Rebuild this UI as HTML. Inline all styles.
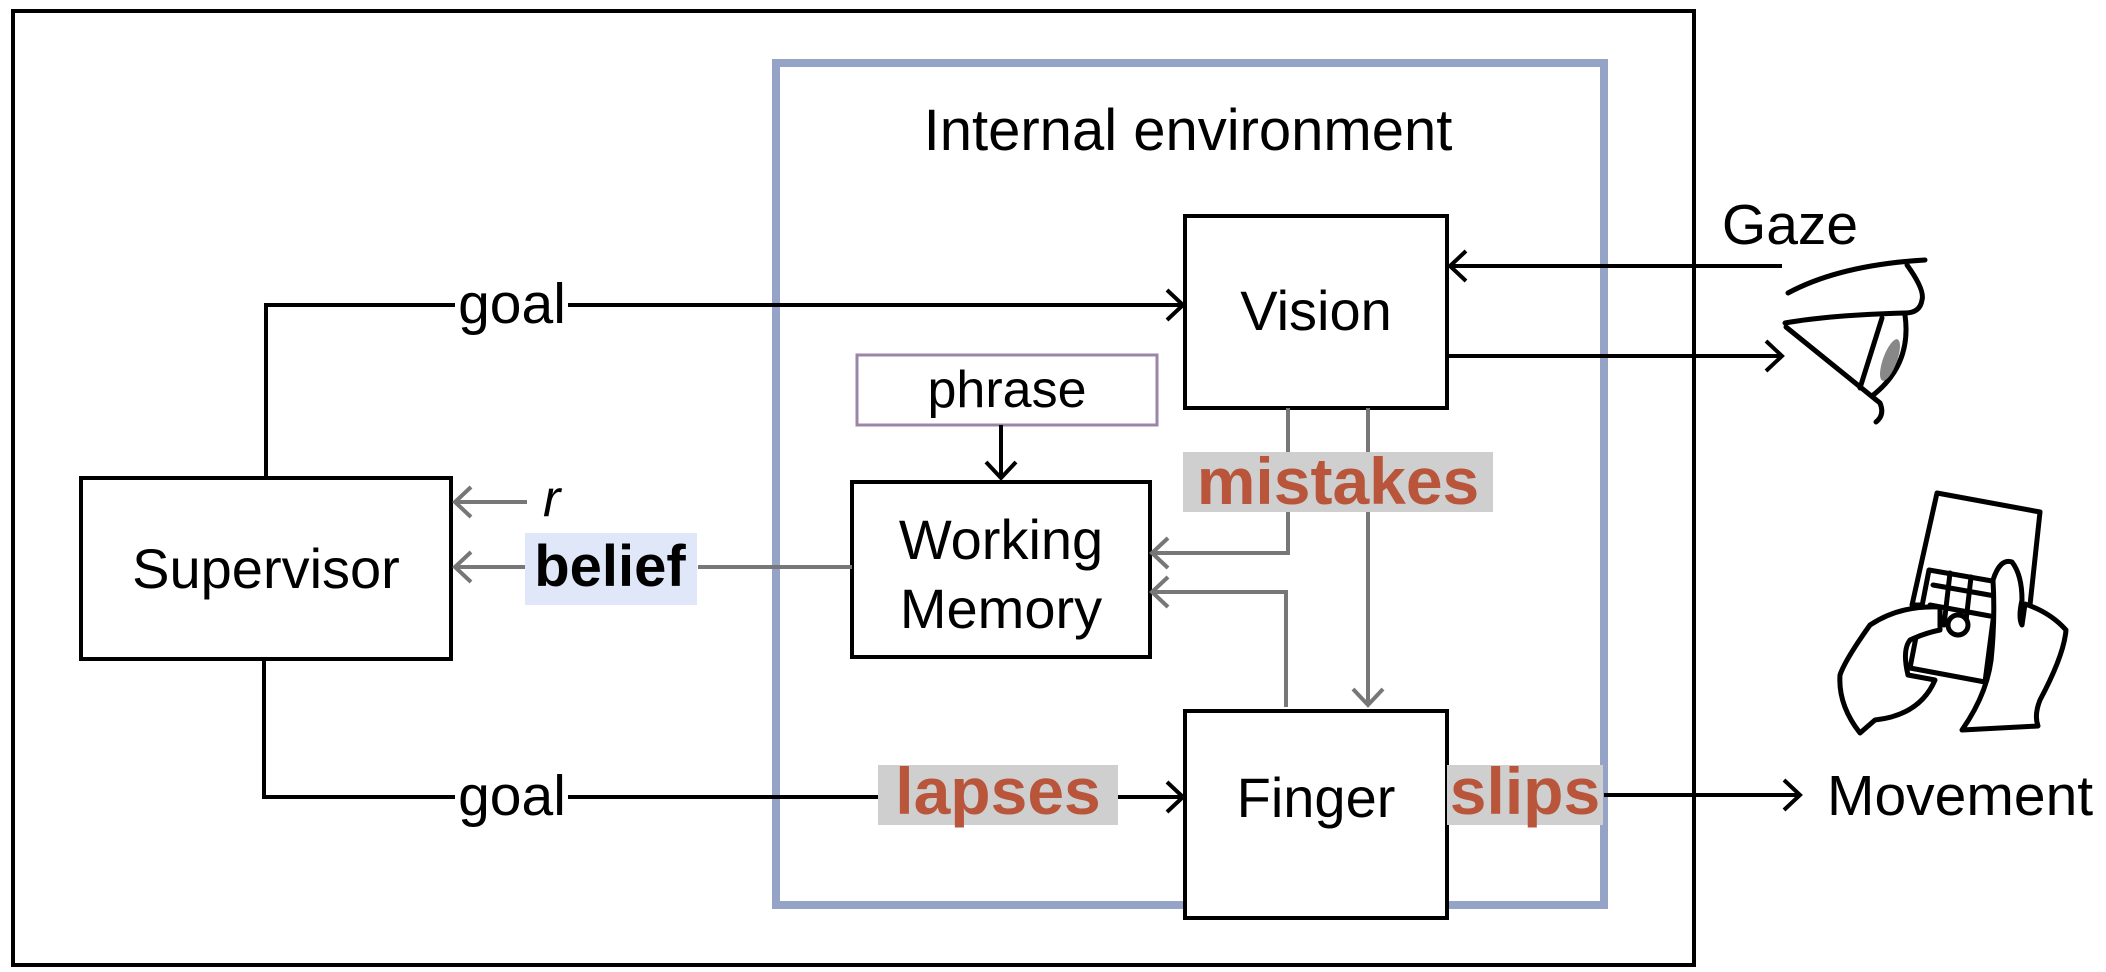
<!DOCTYPE html>
<html><head><meta charset="utf-8"><style>html,body{margin:0;padding:0;background:#fff}svg{display:block}</style></head>
<body>
<svg width="2106" height="972" viewBox="0 0 2106 972" xmlns="http://www.w3.org/2000/svg" font-family="Liberation Sans, sans-serif">
<rect x="0" y="0" width="2106" height="972" fill="#fff"/>
<rect x="13" y="11" width="1681" height="954" fill="none" stroke="#000" stroke-width="4"/>
<rect x="776" y="63" width="828" height="842" fill="none" stroke="#95a3c6" stroke-width="8"/>
<text x="1188" y="150" font-size="58" text-anchor="middle">Internal environment</text>

<g fill="#fff" stroke="#000" stroke-width="4">
<rect x="1185" y="216" width="262" height="192"/>
<rect x="852" y="482" width="298" height="175"/>
<rect x="81" y="478" width="370" height="181"/>
<rect x="1185" y="711" width="262" height="207"/>
</g>
<rect x="857" y="355" width="300" height="70" fill="#fff" stroke="#9a86a6" stroke-width="3"/>

<g font-size="56" text-anchor="middle">
<text x="1316" y="330">Vision</text>
<text x="1001" y="559">Working</text>
<text x="1001" y="628">Memory</text>
<text x="266" y="588">Supervisor</text>
<text x="1316" y="817">Finger</text>
<text x="1007" y="407" font-size="52">phrase</text>
</g>

<g stroke="#000" stroke-width="4" fill="none">
<polyline points="266,478 266,305 455,305"/>
<line x1="568" y1="305" x2="1183" y2="305"/>
<polyline points="1167,290 1183,305 1167,320"/>
<polyline points="264,659 264,797 455,797"/>
<line x1="568" y1="797" x2="880" y2="797"/>
<line x1="1118" y1="797" x2="1183" y2="797"/>
<polyline points="1167,782 1183,797 1167,812"/>
<line x1="1001" y1="425" x2="1001" y2="478"/>
<polyline points="986,462 1001,478 1016,462"/>
<line x1="1604" y1="795" x2="1800" y2="795"/>
<polyline points="1784,780 1800,795 1784,810"/>
<line x1="1450" y1="266" x2="1782" y2="266"/>
<polyline points="1466,251 1450,266 1466,281"/>
<line x1="1449" y1="356" x2="1782" y2="356"/>
<polyline points="1766,341 1782,356 1766,371"/>
</g>
<g font-size="57" text-anchor="middle">
<text x="512" y="323">goal</text>
<text x="512" y="815">goal</text>
<text x="1827" y="815" text-anchor="start">Movement</text>
<text x="1790" y="244">Gaze</text>
</g>

<g stroke="#777" stroke-width="4" fill="none">
<line x1="527" y1="502" x2="455" y2="502"/>
<polyline points="471,487 455,502 471,517"/>
<line x1="852" y1="567" x2="698" y2="567"/>
<line x1="527" y1="567" x2="455" y2="567"/>
<polyline points="471,552 455,567 471,582"/>
<polyline points="1288,408 1288,553 1152,553"/>
<polyline points="1168,538 1152,553 1168,568"/>
<polyline points="1286,707 1286,592 1152,592"/>
<polyline points="1168,577 1152,592 1168,607"/>
<line x1="1368" y1="408" x2="1368" y2="705"/>
<polyline points="1353,689 1368,705 1383,689"/>
</g>
<text x="543" y="516" font-size="52" font-style="italic">r</text>
<rect x="525" y="533" width="172" height="72" fill="#dfe7f8"/>
<text x="610" y="586" font-size="58" font-weight="bold" text-anchor="middle">belief</text>

<rect x="1183" y="452" width="310" height="60" fill="#cfcfcf"/>
<text x="1338" y="504" font-size="66" font-weight="bold" fill="#b8553a" text-anchor="middle">mistakes</text>
<rect x="878" y="765" width="240" height="60" fill="#cfcfcf"/>
<text x="998" y="814" font-size="66" font-weight="bold" fill="#b8553a" text-anchor="middle">lapses</text>
<rect x="1447" y="765" width="156" height="60" fill="#cfcfcf"/>
<text x="1525" y="814" font-size="66" font-weight="bold" fill="#b8553a" text-anchor="middle">slips</text>

<!-- eye -->
<g stroke="#000" stroke-width="5" fill="none" stroke-linecap="round" stroke-linejoin="round">
<path d="M1788,293 Q1840,265 1925,260"/>
<path d="M1907,265 Q1925,290 1922,300 Q1920,313 1905,313 Q1830,315 1785,323"/>
<path d="M1786,327 L1880,403 Q1885,415 1876,422"/>
<path d="M1882,318 L1860,388"/>
<path d="M1905,315 Q1912,365 1872,396"/>
</g>
<ellipse cx="1890" cy="360" rx="7" ry="22" fill="#888" transform="rotate(20 1890 360)"/>

<!-- phone with hands -->
<g stroke="#000" stroke-width="5" fill="#fff" stroke-linejoin="round" stroke-linecap="round">
<path d="M1937,493 L2040,512 L2030,605 L1912,605 Z"/>
<path d="M1929,570 L1998,582 L1985,682 L1910,668 Z"/>
<path d="M1933,585 L1995,596 M1930,605 L1990,616 M1950,573 L1944,625 M1971,577 L1965,630"/>
<circle cx="1958" cy="625" r="10"/>
<path d="M1940,607 Q1900,605 1870,625 Q1845,660 1840,675 Q1838,705 1860,733 L1875,720 Q1920,715 1935,680 L1908,675 Q1902,650 1910,640 Q1925,633 1940,630 Z"/>
<path d="M1993,580 Q2000,558 2012,562 Q2022,575 2022,600 Q2018,618 2022,625 L2025,604 Q2050,612 2066,630 Q2064,655 2040,700 Q2034,715 2038,726 L1962,730 Q1990,690 1992,650 Q1995,615 1993,580 Z"/>
</g>
</svg>
</body></html>
